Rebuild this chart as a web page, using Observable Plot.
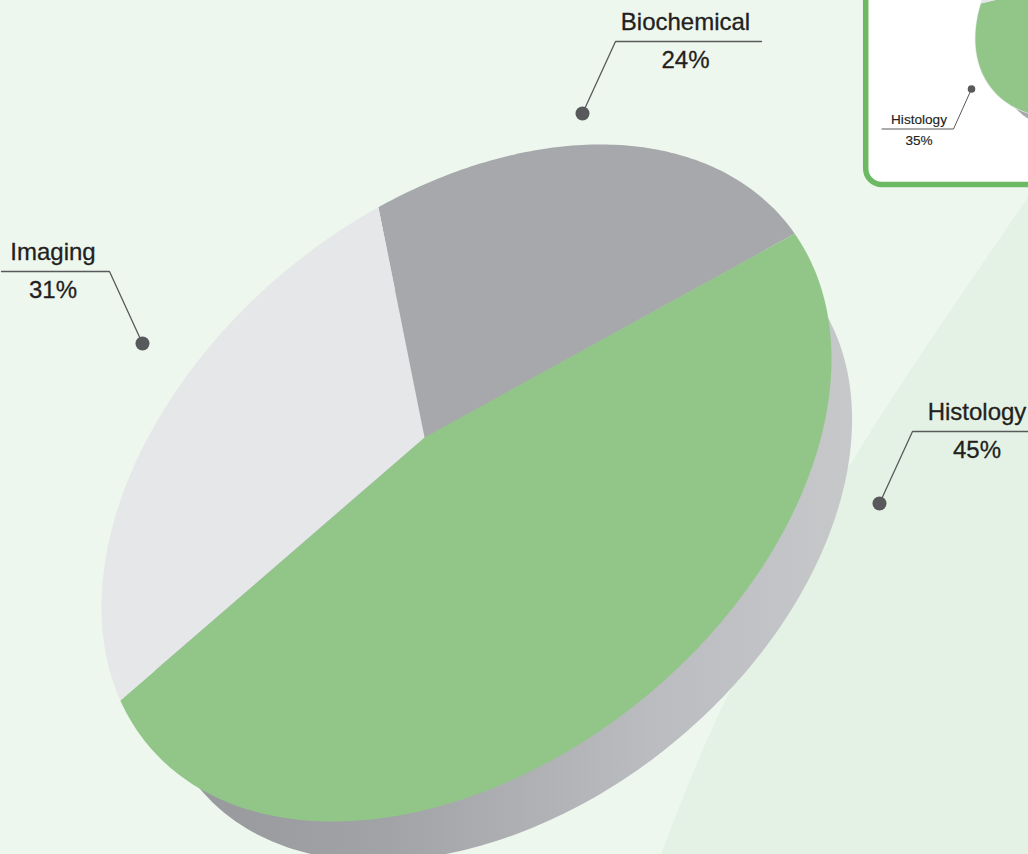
<!DOCTYPE html>
<html>
<head>
<meta charset="utf-8">
<style>html,body{margin:0;padding:0;background:#edf7ee;overflow:hidden}svg{display:block}</style>
<script src="https://cdn.jsdelivr.net/npm/d3@7"></script>
<script src="https://cdn.jsdelivr.net/npm/@observablehq/plot@0.6"></script>
</head>
<body>
<script>
// ---- data ----
const categories = ["Biochemical", "Histology", "Imaging"];
const shares = [24, 45, 31];
const insetCategories = ["Histology", "Other"];
const insetShares = [35, 65];

// ---- styles ----
const sliceColors = {Biochemical: "#a7a8ab", Histology: "#92c688", Imaging: "#e6e7e9", Other: "#e6e7e9"};
const ink = "#231f20", leaderInk = "#58595b", font = "'Liberation Sans', Arial, sans-serif";

// ---- perspective disc: a unit circle seen in perspective, so the hub sits off the ellipse centre ----
const tilt = {a: 365, b: -124, c: 315, d: 0.2218, dir: 238.8 * Math.PI / 180};
function onDisc(disc, angle, r = 1) {
  const x0 = Math.cos(angle), y0 = Math.sin(angle), den = 1 + tilt.d * x0;
  const x = (x0 + tilt.d) / den, y = y0 * Math.sqrt(1 - tilt.d ** 2) / den;
  const ux = x * Math.cos(tilt.dir) - y * Math.sin(tilt.dir);
  const uy = x * Math.sin(tilt.dir) + y * Math.cos(tilt.dir);
  return {x: disc.cx + disc.s * r * tilt.a * ux, y: disc.cy + disc.s * r * (tilt.b * ux + tilt.c * uy)};
}
const hub = (disc) => {
  const ux = tilt.d * Math.cos(tilt.dir), uy = tilt.d * Math.sin(tilt.dir);
  return {x: disc.cx + disc.s * tilt.a * ux, y: disc.cy + disc.s * (tilt.b * ux + tilt.c * uy)};
};
function slices(disc, names, values, startDeg) {
  const total = d3.sum(values), out = [];
  let a = startDeg * Math.PI / 180;
  names.forEach((name, i) => {
    const sweep = values[i] / total * 2 * Math.PI, n = Math.ceil(values[i] * 4);
    out.push({name, ...hub(disc)});
    for (let k = 0; k <= n; k++) out.push({name, ...onDisc(disc, a + sweep * k / n)});
    a += sweep;
  });
  return out;
}
function ring(disc, r = 1) {
  return d3.range(0, 361, 1).map((deg) => onDisc(disc, deg * Math.PI / 180, r));
}

const faceDisc = {cx: 466, cy: 482.5, s: 1};
const baseDisc = {cx: 503, cy: 537.3, s: 0.955};
const insetFace = {cx: 1110, cy: -7.9, s: 0.37};
const insetBase = {cx: 1124.4, cy: 12.4, s: 0.352};

const backdropEdge = [[1042, 176], [1028, 197], [847, 470], [727, 697], [690, 780], [661, 854], [650, 882]]
  .map(([x, y]) => ({x, y}));

// ---- callouts ----
const callouts = [
  {label: "Biochemical", pct: "24%", dot: [582, 113], elbow: [615, 41], end: [761, 41], tx: 685, big: true, r: 7, g1: 11.5, g2: 26},
  {label: "Imaging", pct: "31%", dot: [142, 343], elbow: [109, 271], end: [1, 271], tx: 52.5, big: true, r: 7, g1: 11.5, g2: 26},
  {label: "Histology", pct: "45%", dot: [879, 503], elbow: [912, 431], end: [1028, 431], tx: 976.5, big: true, r: 7, g1: 11.5, g2: 26},
  {label: "Histology", pct: "35%", dot: [971, 88.5], elbow: [953, 128.5], end: [881.5, 128.5], tx: 918.5, big: false, r: 3.8, g1: 5, g2: 15.5}
];
const leaders = callouts.flatMap((c, i) => [c.dot, c.elbow, c.end].map(([x, y]) => ({i, x, y})));

const gradient = () => {
  const defs = d3.create("svg:defs");
  const g = defs.append("linearGradient").attr("id", "sideGradient")
    .attr("gradientUnits", "userSpaceOnUse")
    .attr("x1", 190).attr("x2", 850).attr("y1", 0).attr("y2", 0);
  g.append("stop").attr("offset", 0).attr("stop-color", "#98999d");
  g.append("stop").attr("offset", 0.3).attr("stop-color", "#a2a3a7");
  g.append("stop").attr("offset", 0.7).attr("stop-color", "#bbbcc0");
  g.append("stop").attr("offset", 1).attr("stop-color", "#c7c8ca");
  return defs.node();
};

const textStyle = {fontFamily: font, fill: ink, stroke: ink, lineAnchor: "bottom", textAnchor: "middle"};

const chart = Plot.plot({
  width: 1028, height: 854, margin: 0,
  x: {domain: [0, 1028], range: [0, 1028], axis: null},
  y: {domain: [0, 854], range: [0, 854], axis: null},
  r: {type: "identity"},
  style: {background: "#edf7ee"},
  marks: [
    gradient,
    Plot.areaX(backdropEdge, {y: "y", x1: "x", x2: () => 1100, fill: "#e3f2e4", curve: "catmull-rom"}),
    Plot.line(ring(baseDisc), {x: "x", y: "y", fill: "url(#sideGradient)", stroke: "none"}),
    Plot.line(slices(faceDisc, categories, shares, 21.5), {x: "x", y: "y", z: "name", fill: (d) => sliceColors[d.name], stroke: "none"}),
    Plot.rect([{}], {x1: () => 865.7, x2: () => 1100, y1: () => -60, y2: () => 184.5, rx: 16, fill: "#ffffff", stroke: "#6cb963", strokeWidth: 5.5}),
    Plot.line(ring(insetBase), {x: "x", y: "y", fill: "#a7a8ab", stroke: "none"}),
    Plot.line(ring(insetFace, 1.005), {x: "x", y: "y", fill: "#e6e7e9", stroke: "none"}),
    Plot.line(slices(insetFace, insetCategories, insetShares, -177.75), {x: "x", y: "y", z: "name", fill: (d) => sliceColors[d.name], stroke: "none"}),
    Plot.line(leaders, {x: "x", y: "y", z: "i", stroke: leaderInk, strokeWidth: (d) => (d.i === 3 ? 1 : 1.3)}),
    Plot.dot(callouts, {x: (d) => d.dot[0], y: (d) => d.dot[1], r: "r", fill: leaderInk, stroke: "none"}),
    Plot.text(callouts, {...textStyle, filter: "big", x: "tx", y: (d) => d.elbow[1] - d.g1, text: "label", fontSize: 24, strokeWidth: 0.3}),
    Plot.text(callouts, {...textStyle, filter: "big", x: "tx", y: (d) => d.elbow[1] + d.g2, text: "pct", fontSize: 24, strokeWidth: 0.3}),
    Plot.text(callouts, {...textStyle, filter: (d) => !d.big, x: "tx", y: (d) => d.elbow[1] - d.g1, text: "label", fontSize: 13.6, strokeWidth: 0.15}),
    Plot.text(callouts, {...textStyle, filter: (d) => !d.big, x: "tx", y: (d) => d.elbow[1] + d.g2, text: "pct", fontSize: 13.6, strokeWidth: 0.15})
  ]
});
document.body.appendChild(chart);
</script>
</body>
</html>
